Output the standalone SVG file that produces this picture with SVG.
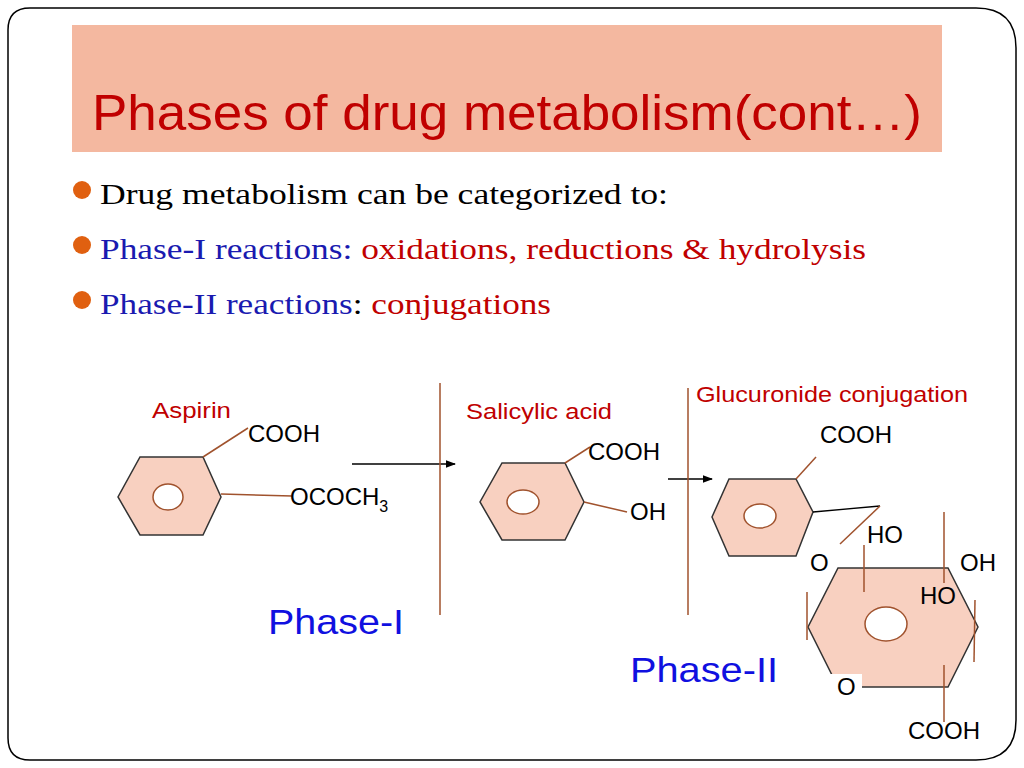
<svg xmlns="http://www.w3.org/2000/svg" width="1024" height="768" viewBox="0 0 1024 768">
<defs><marker id="ah" markerWidth="8" markerHeight="8" refX="7" refY="4" orient="auto"><path d="M0,1 L8,4 L0,7 z" fill="#000"/></marker></defs>
<style>
.ring{fill:#f8d0c0;stroke:#333;stroke-width:1.5}
.hole{fill:#fff;stroke:#a0522d;stroke-width:1.5}
.b{stroke:#a0522d;stroke-width:1.5;fill:none}
.k{stroke:#000;stroke-width:1.3;fill:none}
.t{font-family:"Liberation Sans",Arial,sans-serif;font-size:24px;fill:#000}
.r{font-family:"Liberation Sans",Arial,sans-serif;font-size:22px;fill:#c00000}
.s{font-family:"Liberation Serif",serif;font-size:30px}
.p{font-family:"Liberation Sans",Arial,sans-serif;font-size:35px;fill:#1010e0}
</style>
<rect width="1024" height="768" fill="#fff"/>
<path d="M30,8 H976 Q1016,8 1016,48 V720 Q1016,760 976,760 H30 Q8,760 8,738 V30 Q8,8 30,8 Z" fill="none" stroke="#000" stroke-width="1.5"/>
<g id="title"><rect x="72" y="25" width="870" height="127" fill="#f4b8a0"/>
<text x="92" y="130" font-family="Liberation Sans,Arial,sans-serif" font-size="50" fill="#c00000" textLength="830" lengthAdjust="spacingAndGlyphs">Phases of drug metabolism(cont…)</text></g>
<g id="bullets">
<circle cx="82" cy="190" r="9" fill="#e06010"/><circle cx="82" cy="245" r="9" fill="#e06010"/><circle cx="82" cy="300" r="9" fill="#e06010"/>
<text x="100" y="204" class="s" fill="#000" textLength="568" lengthAdjust="spacingAndGlyphs">Drug metabolism can be categorized to:</text>
<text x="100" y="259" class="s" textLength="766" lengthAdjust="spacingAndGlyphs"><tspan fill="#1a1ab0">Phase-I reactions: </tspan><tspan fill="#c00000">oxidations, reductions &amp; hydrolysis</tspan></text>
<text x="100" y="314" class="s" textLength="451" lengthAdjust="spacingAndGlyphs"><tspan fill="#1a1ab0">Phase-II reactions</tspan><tspan fill="#000">: </tspan><tspan fill="#c00000">conjugations</tspan></text>
</g>
<g id="aspirin">
<polygon class="ring" points="140,457 203,457 221,497 203,535 140,535 118,497"/>
<ellipse class="hole" cx="168" cy="497" rx="15" ry="13"/>
<line class="b" x1="203" y1="457" x2="248" y2="428"/><line class="b" x1="221" y1="494" x2="292" y2="496"/>
<text x="152" y="418" class="r" textLength="79" lengthAdjust="spacingAndGlyphs">Aspirin</text>
<text x="248" y="442" class="t">COOH</text>
<text x="290" y="505" class="t">OCOCH<tspan font-size="16" dy="7">3</tspan></text>
</g>
<g id="salicylic">
<polygon class="ring" points="502,463 565,463 584,502 565,540 502,540 480,502"/>
<ellipse class="hole" cx="523" cy="502" rx="16" ry="12"/>
<line class="b" x1="565" y1="463" x2="590" y2="447"/><line class="b" x1="584" y1="502" x2="627" y2="512"/>
<text x="466" y="419" class="r" textLength="146" lengthAdjust="spacingAndGlyphs">Salicylic acid</text>
<text x="588" y="460" class="t">COOH</text>
<text x="630" y="520" class="t">OH</text>
</g>
<g id="glucuronide">
<polygon class="ring" points="729,479 796,479 813,512 796,556 729,556 712,517"/>
<ellipse class="hole" cx="760" cy="516" rx="16" ry="12"/>
<line class="b" x1="796" y1="479" x2="816" y2="457"/>
<line class="k" x1="813" y1="512" x2="880" y2="506"/>
<line class="b" x1="880" y1="506" x2="840" y2="544"/>
<polygon class="ring" points="838,568 948,568 978,627 948,687 838,687 808,627"/>
<rect x="830" y="674" width="32" height="26" fill="#fff"/>
<ellipse class="hole" cx="886" cy="624" rx="21" ry="17"/>
<line class="b" x1="864" y1="545" x2="864" y2="592"/>
<line class="b" x1="944" y1="512" x2="944" y2="583"/>
<line class="b" x1="807" y1="592" x2="807" y2="640"/>
<line class="b" x1="975" y1="600" x2="974" y2="662"/>
<line class="b" x1="944" y1="665" x2="944" y2="722"/>
<text x="696" y="402" class="r" textLength="272" lengthAdjust="spacingAndGlyphs">Glucuronide conjugation</text>
<text x="820" y="443" class="t">COOH</text>
<text x="867" y="543" class="t">HO</text>
<text x="810" y="571" class="t">O</text>
<text x="960" y="571" class="t">OH</text>
<text x="920" y="604" class="t">HO</text>
<text x="837" y="695" class="t">O</text>
<text x="908" y="739" class="t">COOH</text>
</g>
<g id="connectors">
<line class="k" x1="352" y1="464" x2="455" y2="464" marker-end="url(#ah)"/>
<line class="k" x1="668" y1="479" x2="712" y2="479" marker-end="url(#ah)"/>
<line class="b" x1="440" y1="383" x2="440" y2="615"/>
<line class="b" x1="688" y1="388" x2="688" y2="615"/>
</g>
<text x="268" y="634" class="p" textLength="136" lengthAdjust="spacingAndGlyphs">Phase-I</text>
<text x="630" y="682" class="p" textLength="148" lengthAdjust="spacingAndGlyphs">Phase-II</text>
</svg>
